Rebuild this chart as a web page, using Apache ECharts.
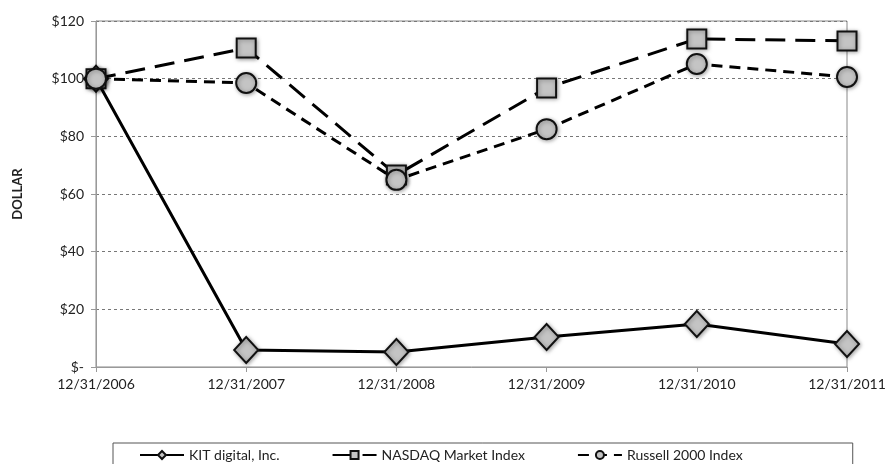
<!DOCTYPE html>
<html>
<head>
<meta charset="utf-8">
<script src="https://cdn.jsdelivr.net/npm/echarts@6/dist/echarts.min.js"></script>
<style>
  html, body { margin: 0; padding: 0; background: #fff; }
  #chart { width: 891px; height: 464px; }
</style>
</head>
<body>
<div id="chart"></div>
<script>
const categories = ['12/31/2006', '12/31/2007', '12/31/2008', '12/31/2009', '12/31/2010', '12/31/2011'];
const kitDigital = [100, 5.9, 5.2, 10.4, 14.9, 8.0];
const nasdaq = [100, 110.6, 66.6, 96.8, 113.8, 113.1];
const russell = [100, 98.5, 64.9, 82.5, 105.1, 100.6];
const yTicks = [0, 20, 40, 60, 80, 100, 120];

const font = 'Lato, "Open Sans", sans-serif';

const markerStyle = {
  color: '#c4c4c4',
  borderColor: '#111',
  borderWidth: 2,
  shadowColor: 'rgba(0,0,0,0.35)',
  shadowBlur: 4,
  shadowOffsetX: 1,
  shadowOffsetY: 1,
};

const chart = echarts.init(document.getElementById('chart'));
chart.setOption({
  animation: false,
  grid: { left: 96, right: 44, top: 21, bottom: 97, show: true, borderColor: '#888', borderWidth: 1 },
  legend: {
    bottom: -6,
    left: 113,
    padding: [5, 110, 8, 26],
    itemGap: 52,
    itemWidth: 44,
    itemHeight: 10,
    borderColor: '#555',
    borderWidth: 1,
    textStyle: { fontFamily: font, fontSize: 14, color: '#222' },
    data: ['KIT digital, Inc.', 'NASDAQ Market Index', 'Russell 2000 Index'],
  },
  xAxis: {
    type: 'category',
    data: categories,
    boundaryGap: false,
    axisLine: { lineStyle: { color: '#999' } },
    axisTick: { show: true, length: 5, lineStyle: { color: '#999' } },
    axisLabel: { fontFamily: font, fontSize: 14, color: '#222', margin: 10 },
    splitLine: { show: false },
  },
  yAxis: {
    type: 'value',
    min: 0,
    max: 120,
    interval: 20,
    name: 'DOLLAR',
    nameLocation: 'middle',
    nameGap: 72,
    nameRotate: 90,
    nameTextStyle: { fontFamily: font, fontSize: 13, fontWeight: 'bold', color: '#222' },
    axisLine: { show: true, lineStyle: { color: '#999' } },
    axisTick: { show: true, length: 5, lineStyle: { color: '#999' } },
    axisLabel: {
      fontFamily: font, fontSize: 14, color: '#222', margin: 12,
      formatter: v => yTicks.includes(v) ? (v === 0 ? '$-' : '$' + v) : '',
    },
    splitLine: { show: true, lineStyle: { color: '#777', type: [3, 3], width: 1 } },
  },
  series: [
    {
      name: 'KIT digital, Inc.',
      type: 'line',
      data: kitDigital,
      symbol: 'diamond',
      symbolSize: [24, 26],
      lineStyle: { color: '#000', width: 3 },
      itemStyle: markerStyle,
    },
    {
      name: 'NASDAQ Market Index',
      type: 'line',
      data: nasdaq,
      symbol: 'rect',
      symbolSize: 19,
      lineStyle: { color: '#000', width: 3, type: [20, 10] },
      itemStyle: markerStyle,
    },
    {
      name: 'Russell 2000 Index',
      type: 'line',
      data: russell,
      symbol: 'circle',
      symbolSize: 20,
      lineStyle: { color: '#000', width: 3, type: [11, 7] },
      itemStyle: markerStyle,
    },
  ],
});
</script>
</body>
</html>
